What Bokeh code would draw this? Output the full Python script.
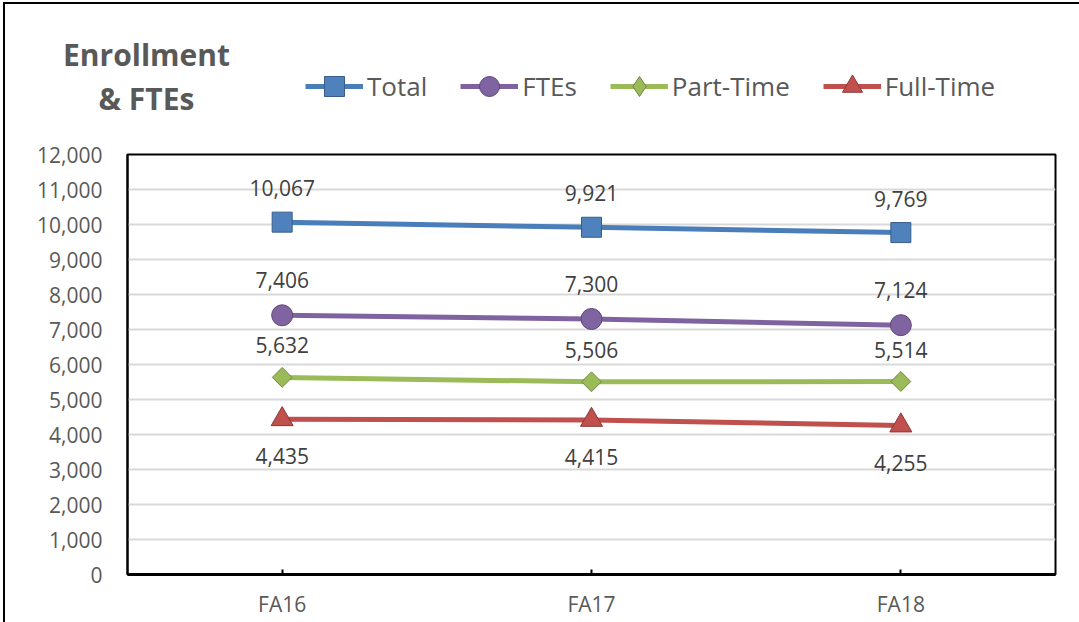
import math
from bokeh.plotting import figure
from bokeh.layouts import column
from bokeh.models import (FactorRange, FixedTicker, NumeralTickFormatter, Legend, LegendItem,
                          Label, ColumnDataSource, Range1d)
from bokeh.core.properties import value
from bokeh.embed import file_html
from bokeh.resources import INLINE

# ---- data ----
terms = ["FA16", "FA17", "FA18"]
total = [10067, 9921, 9769]
ftes = [7406, 7300, 7124]
part_time = [5632, 5506, 5514]
full_time = [4435, 4415, 4255]
y_ticks = list(range(0, 12001, 1000))
title_lines = ["Enrollment", "& FTEs"]
series_names = ["Total", "FTEs", "Part-Time", "Full-Time"]

FONT = "Open Sans"
GRAY = "#595959"
LABEL = "#404040"

W = 1074
HEAD_H = 134
MAIN_H = 484

# ---------- header (title + legend) ----------
head = figure(width=W, height=HEAD_H, x_range=Range1d(0, W), y_range=Range1d(HEAD_H, 0),
              output_backend="svg", toolbar_location=None,
              min_border=0, x_axis_type=None, y_axis_type=None)
head.outline_line_color = None
head.grid.visible = False
head.background_fill_color = "white"
head.border_fill_color = "white"

# ---------- main chart ----------
p = figure(width=W, height=MAIN_H, x_range=FactorRange(*terms), y_range=(0, 12000),
           output_backend="svg", toolbar_location=None,
           min_border_left=122, min_border_right=24, min_border_top=16, min_border_bottom=48)

for f in (head, p):
    try:
        f.frame_align = False
    except Exception:
        pass

p.outline_line_color = "black"
p.outline_line_width = 2
p.background_fill_color = "white"
p.border_fill_color = "white"

p.xgrid.grid_line_color = None
p.ygrid.grid_line_color = "#d9d9d9"
p.ygrid.grid_line_width = 2

p.yaxis.ticker = FixedTicker(ticks=y_ticks)
p.yaxis.formatter = NumeralTickFormatter(format="0,0")
p.yaxis.major_tick_line_color = None
p.yaxis.minor_tick_line_color = None
p.yaxis.axis_line_color = "black"
p.yaxis.axis_line_width = 2
p.yaxis.major_label_text_font = FONT
p.yaxis.major_label_text_font_size = "21px"
p.yaxis.major_label_text_color = GRAY
p.yaxis.major_label_standoff = 19

p.xaxis.axis_line_color = "black"
p.xaxis.axis_line_width = 3
p.xaxis.major_tick_in = 5
p.xaxis.major_tick_out = 0
p.xaxis.major_tick_line_width = 2
p.xaxis.major_tick_line_color = "black"
p.xaxis.major_label_text_font = FONT
p.xaxis.major_label_text_font_size = "21px"
p.xaxis.major_label_text_color = GRAY
p.xaxis.major_label_standoff = 15

styles = [
    # line colour, fill, edge, marker, size, angle, legend marker, legend size, label y offset
    ("#4a7ebb", "#4f81bd", "#385d8a", "square", 20, 0, "square", 20, -34),
    ("#7f63a1", "#8064a2", "#5c4776", "circle", 21, 0, "circle", 21, -35),
    ("#9bbb59", "#9bbb59", "#71893f", "square", 14, math.pi / 4, "diamond", 20, -32),
    ("#c0504d", "#c0504d", "#8c3836", "triangle", 22, 0, "triangle", 22, 37),
]
values_list = [total, ftes, part_time, full_time]

items = []
for name, vals, (lcol, fcol, ecol, marker, size, ang, lmarker, lsize, yoff) in zip(
        series_names, values_list, styles):
    src = ColumnDataSource(dict(x=terms, y=vals, lab=[f"{v:,}" for v in vals]))
    p.line("x", "y", source=src, line_color=lcol, line_width=5)
    p.scatter("x", "y", source=src, marker=marker, size=size, angle=ang,
              fill_color=fcol, line_color=ecol, line_width=1)
    p.text("x", "y", text="lab", source=src, text_font=value(FONT), text_font_size="21px",
           text_color=LABEL, text_align="center", text_baseline="middle", y_offset=yoff)
    # legend proxies in header (kept outside the visible header range)
    proxy = ColumnDataSource(dict(x=[-50], y=[-50]))
    lr = head.line("x", "y", source=proxy, line_color=lcol, line_width=5)
    mr = head.scatter("x", "y", source=proxy, marker=lmarker, size=lsize,
                      fill_color=fcol, line_color=ecol, line_width=1)
    items.append(LegendItem(label=name, renderers=[lr, mr]))

legend = Legend(items=items, orientation="horizontal", location=(300, 27),
                glyph_width=58, glyph_height=50, label_height=50, label_standoff=4, spacing=33,
                padding=0, margin=0, border_line_alpha=0, background_fill_alpha=0,
                label_text_font=FONT, label_text_font_size="26px", label_text_color=GRAY)
head.add_layout(legend, "center")

for txt, yy in zip(title_lines, [50, 94]):
    head.add_layout(Label(x=141, y=yy, text=txt,
                          text_font=FONT, text_font_size="30px", text_font_style="bold",
                          text_color=GRAY, text_align="center", text_baseline="alphabetic"))

page = column(head, p, spacing=0,
              styles={"border-left": "2px solid black", "border-top": "2px solid black",
                      "margin-left": "3px", "margin-top": "2px"})

open("out.html", "w").write(file_html(page, INLINE))
